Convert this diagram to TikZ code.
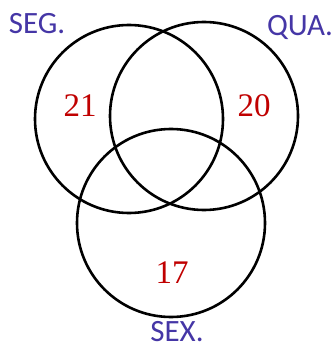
\documentclass[tikz,border=0pt]{standalone}
\usepackage{fontspec}
\setmainfont{Liberation Serif}
\newfontfamily\daysfont{Carlito}
\usepackage{tikz}

\begin{document}
\begin{tikzpicture}[x=1pt,y=-1pt]
\definecolor{dayBlue}{HTML}{4536A6}
\definecolor{countRed}{HTML}{C00000}
\tikzset{
  daylbl/.style={anchor=base,text=dayBlue,inner sep=0pt,font=\daysfont\fontsize{31}{31}\selectfont},
  countlbl/.style={anchor=base,text=countRed,inner sep=0pt,font=\fontsize{33}{33}\selectfont}
}
\useasboundingbox (0,0) rectangle (335,347);
\foreach \cx/\cy in {129/119,204/116,171/223} {
  \draw[line width=2.6pt] (\cx,\cy) circle[radius=94];
}
\node[daylbl] (seg) at (37,34) {SEG.};
\node[daylbl] (qua) at (300,36) {QUA.};
\node[daylbl] (sex) at (177,341) {SEX.};
\node[countlbl] (nseg) at (80,117) {21};
\node[countlbl] (nqua) at (254,117) {20};
\node[countlbl] (nsex) at (172,283) {17};
\end{tikzpicture}
\end{document}
